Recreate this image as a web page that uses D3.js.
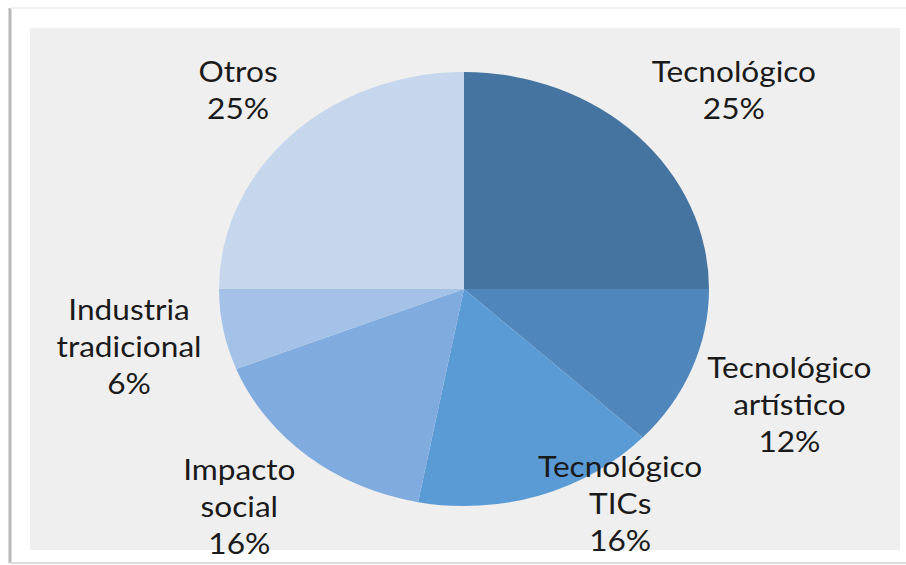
<!DOCTYPE html>
<html>
<head>
<meta charset="utf-8">
<script src="https://cdn.jsdelivr.net/npm/d3@7"></script>
<style>
  html, body { margin: 0; padding: 0; background: #ffffff; }
  svg { display: block; }
</style>
</head>
<body>
<svg id="chart" width="906" height="565"></svg>
<script>
// ---- data ----
const categories = ["Tecnológico", "Tecnológico artístico", "Tecnológico TICs", "Impacto social", "Industria tradicional", "Otros"];
const labelLines = [["Tecnológico"], ["Tecnológico", "artístico"], ["Tecnológico", "TICs"], ["Impacto", "social"], ["Industria", "tradicional"], ["Otros"]];
const values = [25, 12, 16, 16, 6, 25];
const colors = ["#4574a0", "#4f86bc", "#5b9bd5", "#7fabde", "#a4c2e7", "#c5d6ed"];
// label placement nudges (radius, angle shift in degrees)
const labelRadius = [312, 310, 254, 294, 302, 283];
const labelShift = [5, 0, -15, 3, 0, 0];

const W = 906, H = 565;
const svg = d3.select("#chart");

// frame
svg.append("rect").attr("x", 0).attr("y", 0).attr("width", W).attr("height", H).attr("fill", "#ffffff");
svg.append("line").attr("x1", 10).attr("x2", 10).attr("y1", 8).attr("y2", 563)
  .attr("stroke", "#b8b8b8").attr("stroke-width", 3);
svg.append("line").attr("x1", 10).attr("x2", 906).attr("y1", 8).attr("y2", 8)
  .attr("stroke", "#ececec").attr("stroke-width", 1.5);
svg.append("line").attr("x1", 10).attr("x2", 906).attr("y1", 563).attr("y2", 563)
  .attr("stroke", "#dcdcdc").attr("stroke-width", 2);
// plot panel
svg.append("rect").attr("x", 30).attr("y", 28).attr("width", 870).attr("height", 522).attr("fill", "#efefef");

const cx = 464, cy = 289, r = 217, sx = 245 / 217;
const total = d3.sum(values);

const pie = d3.pie().sort(null).value(d => d);
const arcs = pie(values);
const arc = d3.arc().innerRadius(0).outerRadius(r);

const g = svg.append("g").attr("transform", `translate(${cx},${cy}) scale(${sx},1)`);
g.selectAll("path").data(arcs).enter().append("path")
  .attr("d", arc)
  .attr("fill", (d, i) => colors[i]);

// labels
const fontSize = 28, lineH = 37;
const lg = svg.append("g").attr("transform", `translate(${cx},${cy})`);
arcs.forEach((d, i) => {
  const mid = (d.startAngle + d.endAngle) / 2 + labelShift[i] * Math.PI / 180;
  const lr = labelRadius[i];
  const x = Math.sin(mid) * lr * sx;
  const y = -Math.cos(mid) * lr;
  const lines = labelLines[i].concat([Math.round(values[i] / total * 100) + "%"]);
  const n = lines.length;
  const t = lg.append("text")
    .attr("transform", `translate(${x},${y}) scale(${sx},1)`)
    .attr("text-anchor", "middle")
    .attr("font-family", "Lato, 'Open Sans', sans-serif")
    .attr("font-size", fontSize)
    .attr("fill", "#1a1a1a");
  lines.forEach((s, k) => {
    t.append("tspan")
      .attr("x", 0)
      .attr("y", (k - (n - 1) / 2) * lineH + fontSize * 0.42)
      .text(s);
  });
});
</script>
</body>
</html>
